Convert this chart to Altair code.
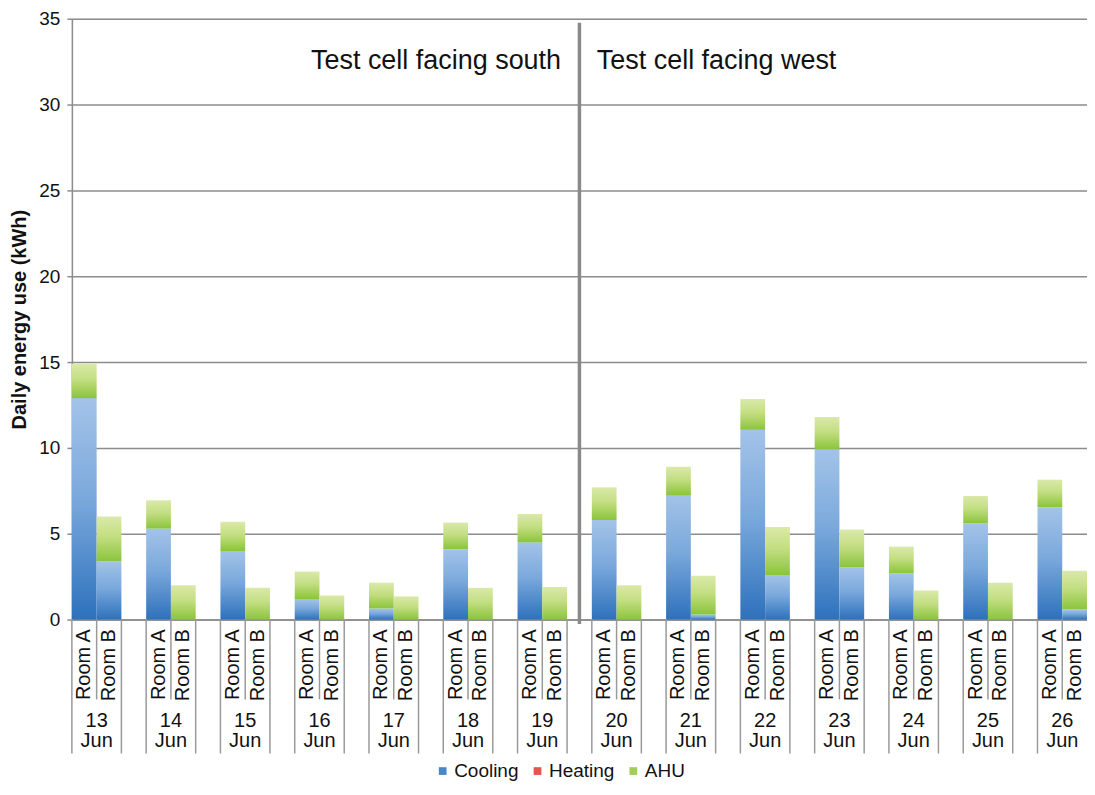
import altair as alt
import pandas as pd

FONT = "Liberation Sans"

# ---------------- data ----------------
days = ["13", "14", "15", "16", "17", "18", "19", "20", "21", "22", "23", "24", "25", "26"]
month = "Jun"
room_keys = ["A", "B"]
room_names = ["Room A", "Room B"]

cooling_a = [12.9, 5.3, 4.0, 1.2, 0.65, 4.1, 4.5, 5.8, 7.25, 11.05, 9.9, 2.7, 5.6, 6.55]
heating_a = [0.0, 0.0, 0.0, 0.0, 0.0, 0.0, 0.0, 0.0, 0.0, 0.0, 0.0, 0.0, 0.0, 0.0]
ahu_a = [2.0, 1.65, 1.7, 1.6, 1.5, 1.55, 1.65, 1.9, 1.65, 1.8, 1.9, 1.55, 1.6, 1.6]

cooling_b = [3.4, 0.0, 0.0, 0.0, 0.0, 0.0, 0.0, 0.0, 0.3, 2.6, 3.05, 0.0, 0.0, 0.6]
heating_b = [0.0, 0.0, 0.0, 0.0, 0.0, 0.0, 0.0, 0.0, 0.0, 0.0, 0.0, 0.0, 0.0, 0.0]
ahu_b = [2.6, 2.0, 1.85, 1.4, 1.35, 1.85, 1.9, 2.0, 2.25, 2.8, 2.2, 1.7, 2.15, 2.25]

series = ["Cooling", "Heating", "AHU"]
legend_colors = ["#4a87c9", "#e8534b", "#a2cc5c"]
y_ticks = [0, 5, 10, 15, 20, 25, 30, 35]
section_labels = ["Test cell facing south", "Test cell facing west"]
section_split_day = "19"
y_title = "Daily energy use (kWh)"

# ---------------- tables ----------------
slots = []
for i, d in enumerate(days):
    slots += [f"{d}-A", f"{d}-B"]
    if i < len(days) - 1:
        slots.append(f"{d}-gap")

rows = []
for i, d in enumerate(days):
    for key, c, h, a in [("A", cooling_a[i], heating_a[i], ahu_a[i]),
                         ("B", cooling_b[i], heating_b[i], ahu_b[i])]:
        rows.append(dict(slot=f"{d}-{key}", c0=0.0, c1=c, h0=c, h1=c + h,
                         a0=c + h, a1=c + h + a))
bars = pd.DataFrame(rows)

full_sep = pd.DataFrame({"slot": [s for s in slots if not s.endswith("-B")],
                         "y0": 0.0, "y1": -7.8})
short_sep = pd.DataFrame({"slot": [s for s in slots if s.endswith("-B")],
                          "y0": 0.0, "y1": -4.65})
date_lbl = pd.DataFrame({"slot": [f"{d}-B" for d in days],
                         "label": [f"{d}\n{month}" for d in days],
                         "y": -5.3})
split = pd.DataFrame({"slot": [f"{section_split_day}-gap"], "y0": [34.77], "y1": [-0.25]})
south = pd.DataFrame({"slot": [f"{section_split_day}-gap"], "label": [section_labels[0]], "y": [32.05]})
west = pd.DataFrame({"slot": [f"{days[days.index(section_split_day) + 1]}-A"],
                     "label": [section_labels[1]], "y": [32.05]})
leg = pd.DataFrame({"series": series, "slot": slots[0], "y": 0.0})

# ---------------- scales / axes ----------------
x_scale = alt.Scale(domain=slots, paddingInner=0, paddingOuter=0)
y_scale = alt.Scale(domain=[0, 35], nice=False, zero=True)

x_axis = alt.Axis(
    title=None, labelAngle=-90, labelAlign="right", labelBaseline="middle",
    labelExpr="indexof(datum.value, '-A') > 0 ? 'Room A' : (indexof(datum.value, '-B') > 0 ? 'Room B' : '')",
    labelFont=FONT, labelFontSize=20, labelColor="#111111", labelPadding=9,
    labelOverlap=False, ticks=False, tickSize=0, domainColor="#8c8c8c",
    domainWidth=1.5, grid=False,
)
y_axis = alt.Axis(
    title=y_title, values=y_ticks, grid=True, gridColor="#8c8c8c", gridWidth=1.5,
    tickColor="#8c8c8c", tickSize=5, tickWidth=1.5, domainColor="#8c8c8c", domainWidth=1.5,
    labelFont=FONT, labelFontSize=19, labelColor="#111111", labelPadding=7,
    titleFont=FONT, titleFontSize=20, titleFontWeight="bold", titleColor="#111111",
    titlePadding=9,
)


def X(**kw):
    return alt.X("slot:N", scale=x_scale, axis=x_axis, sort=None, **kw)


def grad(c0, cm, c1):
    return alt.Gradient(
        gradient="linear", x1=0, x2=0, y1=1, y2=0,
        stops=[alt.GradientStop(color=c0, offset=0),
               alt.GradientStop(color=cm, offset=0.55),
               alt.GradientStop(color=c1, offset=1)],
    )


blue = grad("#2d71bc", "#7ba9dc", "#a3c3e8")
red = grad("#d9362f", "#ec6a62", "#f4a29d")
green = grad("#8bc43c", "#c3de82", "#dae9a9")

cool = alt.Chart(bars).mark_bar(fill=blue, strokeWidth=0).encode(
    x=X(), y=alt.Y("c0:Q", scale=y_scale, axis=y_axis), y2="c1:Q")
heat = alt.Chart(bars).mark_bar(fill=red, strokeWidth=0).encode(
    x=X(), y=alt.Y("h0:Q", scale=y_scale, axis=y_axis), y2="h1:Q")
ahu = alt.Chart(bars).mark_bar(fill=green, strokeWidth=0).encode(
    x=X(), y=alt.Y("a0:Q", scale=y_scale, axis=y_axis), y2="a1:Q")

sep_full = alt.Chart(full_sep).mark_rule(color="#9a9a9a", strokeWidth=1.5).encode(
    x=X(bandPosition=0), y=alt.Y("y0:Q", scale=y_scale, axis=y_axis), y2="y1:Q")
sep_short = alt.Chart(short_sep).mark_rule(color="#9a9a9a", strokeWidth=1.5).encode(
    x=X(bandPosition=0), y=alt.Y("y0:Q", scale=y_scale, axis=y_axis), y2="y1:Q")
dates = alt.Chart(date_lbl).mark_text(
    lineBreak="\n", baseline="top", align="center", font=FONT, fontSize=20,
    lineHeight=20, color="#111111").encode(
    x=X(bandPosition=0), y=alt.Y("y:Q", scale=y_scale, axis=y_axis), text="label:N")

split_rule = alt.Chart(split).mark_rule(color="#8a8a8a", strokeWidth=3.5).encode(
    x=X(bandPosition=0.5), y=alt.Y("y0:Q", scale=y_scale, axis=y_axis), y2="y1:Q")
south_txt = alt.Chart(south).mark_text(
    align="right", baseline="alphabetic", font=FONT, fontSize=27, color="#111111", dx=-6).encode(
    x=X(bandPosition=0), y=alt.Y("y:Q", scale=y_scale, axis=y_axis), text="label:N")
west_txt = alt.Chart(west).mark_text(
    align="left", baseline="alphabetic", font=FONT, fontSize=27, color="#111111", dx=5).encode(
    x=X(bandPosition=0), y=alt.Y("y:Q", scale=y_scale, axis=y_axis), text="label:N")

legend_layer = alt.Chart(leg).mark_square(opacity=0, size=1).encode(
    x=X(), y=alt.Y("y:Q", scale=y_scale, axis=y_axis),
    color=alt.Color("series:N", scale=alt.Scale(domain=series, range=legend_colors),
                    legend=alt.Legend(
                        title=None, orient="none", direction="horizontal",
                        legendX=362, legendY=744, symbolType="square", symbolSize=60,
                        symbolOpacity=1, symbolStrokeWidth=0, labelFont=FONT,
                        labelFontSize=19, labelColor="#111111", labelOffset=2,
                        columnPadding=9)))

chart = alt.layer(
    cool, heat, ahu, sep_full, sep_short, dates, split_rule, south_txt, west_txt, legend_layer
).properties(
    width=1017, height=602,
    autosize=alt.AutoSizeParams(type="none"),
    padding={"left": 64, "top": 10, "right": 0, "bottom": 165},
).configure_view(stroke=None).configure(background="white")

chart.save("out.html", embed_options={"renderer": "svg", "actions": False})
